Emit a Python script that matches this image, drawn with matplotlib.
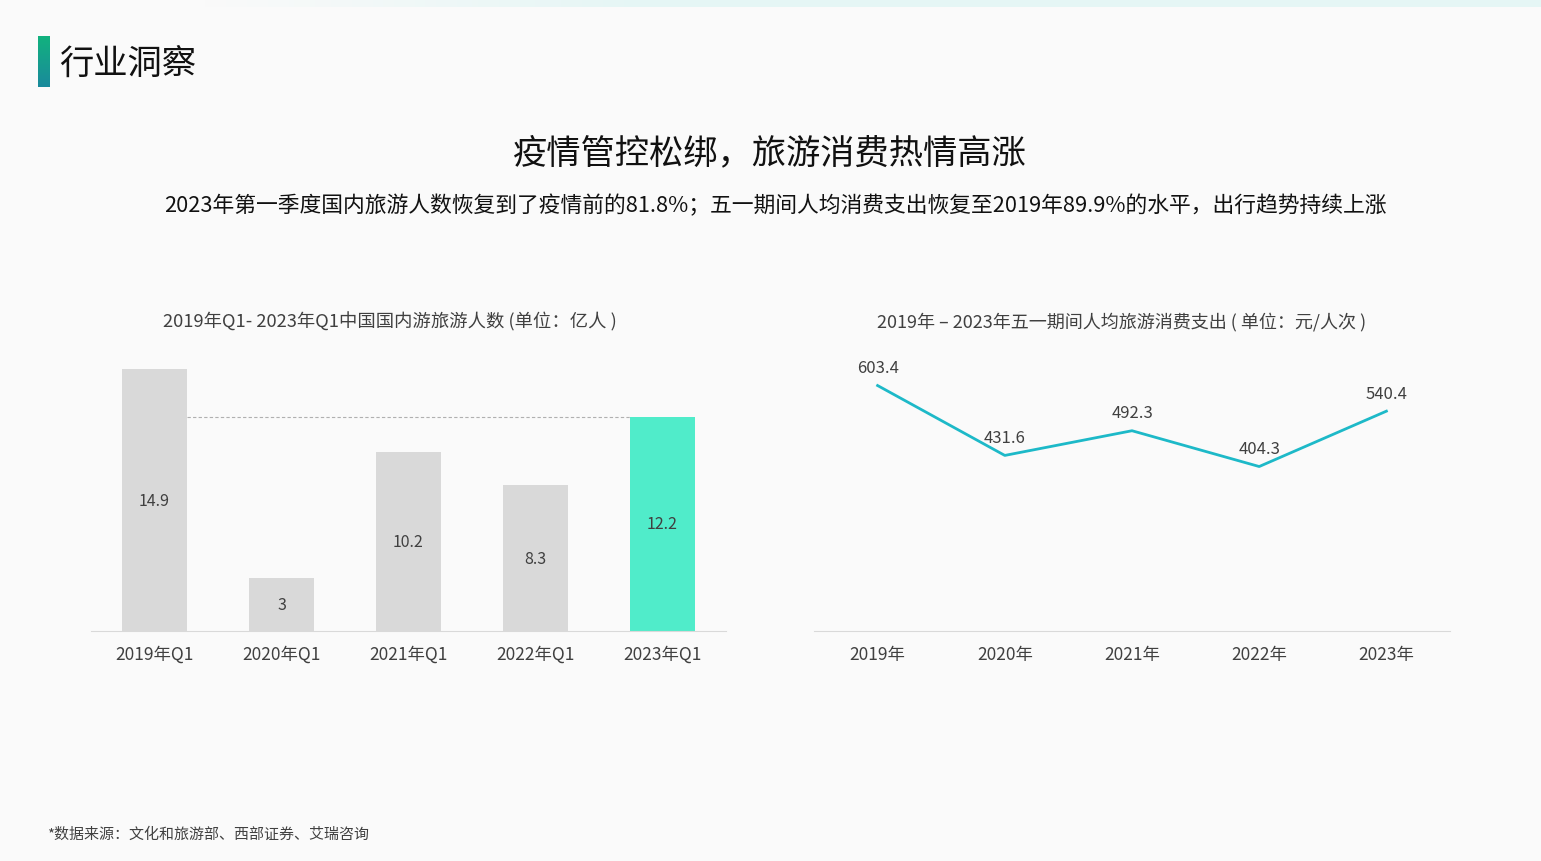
import numpy as np
import matplotlib
matplotlib.use("Agg")
import matplotlib.pyplot as plt

plt.rcParams['font.family'] = ['Noto Sans CJK SC', 'DejaVu Sans']

# data
bar_labels = ['2019年Q1', '2020年Q1', '2021年Q1', '2022年Q1', '2023年Q1']
visitors = [14.9, 3, 10.2, 8.3, 12.2]
line_labels = ['2019年', '2020年', '2021年', '2022年', '2023年']
spend = [603.4, 431.6, 492.3, 404.3, 540.4]

W, H = 1541, 862
fig = plt.figure(figsize=(W / 100, H / 100), dpi=100, facecolor='#fafafa')


def px_axes(x0, y0, x1, y1):
    # pixel box (top-left origin) -> figure axes
    return fig.add_axes([x0 / W, 1 - y1 / H, (x1 - x0) / W, (y1 - y0) / H])


# background decoration
bg = fig.add_axes([0, 0, 1, 1], zorder=-5)
grad = np.linspace(0, 1, 256).reshape(1, -1)
bg.imshow(np.clip(grad * 3, 0, 1), extent=[200, W, 8, 0],
          cmap=matplotlib.colors.LinearSegmentedColormap.from_list('c', ['#fafafa', '#e5f6f5']),
          aspect='auto', zorder=0)
# header mark
mark = np.linspace(0, 1, 64).reshape(-1, 1)
bg.imshow(mark, extent=[38, 50, 88, 37],
          cmap=matplotlib.colors.LinearSegmentedColormap.from_list('g', ['#12b27e', '#1a8a9c']),
          aspect='auto', zorder=1)
bg.set_xlim(0, W)
bg.set_ylim(H, 0)
bg.axis('off')

fig.text(59 / W, 1 - 64 / H, '行业洞察', fontsize=24.7, color='#111111', va='center', ha='left')
fig.text(770 / W, 1 - 154 / H, '疫情管控松绑，旅游消费热情高涨', fontsize=24.7, color='#111111',
         va='center', ha='center')
fig.text(775 / W, 1 - 206 / H,
         '2023年第一季度国内旅游人数恢复到了疫情前的81.8%；五一期间人均消费支出恢复至2019年89.9%的水平，出行趋势持续上涨',
         fontsize=15.7, color='#111111', va='center', ha='center')
fig.text(390 / W, 1 - 322 / H, '2019年Q1- 2023年Q1中国国内游旅游人数 (单位：亿人 )', fontsize=13.2,
         color='#404040', va='center', ha='center')
fig.text(1122 / W, 1 - 322 / H, '2019年 – 2023年五一期间人均旅游消费支出 ( 单位：元/人次 )', fontsize=13,
         color='#404040', va='center', ha='center')
fig.text(47 / W, 1 - 835 / H, '*数据来源：文化和旅游部、西部证券、艾瑞咨询', fontsize=10.8,
         color='#404040', va='center', ha='left')

# bar chart
ax1 = px_axes(91, 350, 726, 632)
x = np.arange(len(visitors))
colors = ['#d9d9d9'] * 4 + ['#50ecca']
ax1.bar(x, visitors, width=0.51, color=colors, zorder=2)
for xi, v in zip(x, visitors):
    ax1.text(xi, v / 2, f'{v:g}', ha='center', va='center', fontsize=11.5, color='#404040')
ax1.plot([x[0] + 0.255, x[-1] - 0.255], [visitors[-1]] * 2, ls=(0, (3, 2)), color='#b0b0b0', lw=0.8, zorder=1)
ax1.set_xlim(-0.5, 4.5)
ax1.set_ylim(0, 282 / 17.58)
ax1.set_xticks(x)
ax1.set_xticklabels(bar_labels, fontsize=12.5, color='#404040')
ax1.tick_params(axis='x', length=0, pad=10)
ax1.set_yticks([])
for s in ['top', 'right', 'left']:
    ax1.spines[s].set_visible(False)
ax1.spines['bottom'].set_color('#d9d9d9')
ax1.patch.set_alpha(0)

# line chart
ax2 = px_axes(814, 350, 1450, 632)
ax2.plot(x, spend, color='#1db9c8', lw=2, zorder=2)
for xi, v in zip(x, spend):
    ax2.annotate(f'{v:.1f}', (xi, v), xytext=(0, 13), textcoords='offset points',
                 ha='center', va='center', fontsize=12, color='#404040')
ax2.set_xlim(-0.5, 4.5)
ax2.set_ylim(0, 282 / 0.4068)
ax2.set_xticks(x)
ax2.set_xticklabels(line_labels, fontsize=12.5, color='#404040')
ax2.tick_params(axis='x', length=0, pad=10)
ax2.set_yticks([])
for s in ['top', 'right', 'left']:
    ax2.spines[s].set_visible(False)
ax2.spines['bottom'].set_color('#d9d9d9')
ax2.patch.set_alpha(0)

fig.savefig('out.png', dpi=100, facecolor=fig.get_facecolor())
